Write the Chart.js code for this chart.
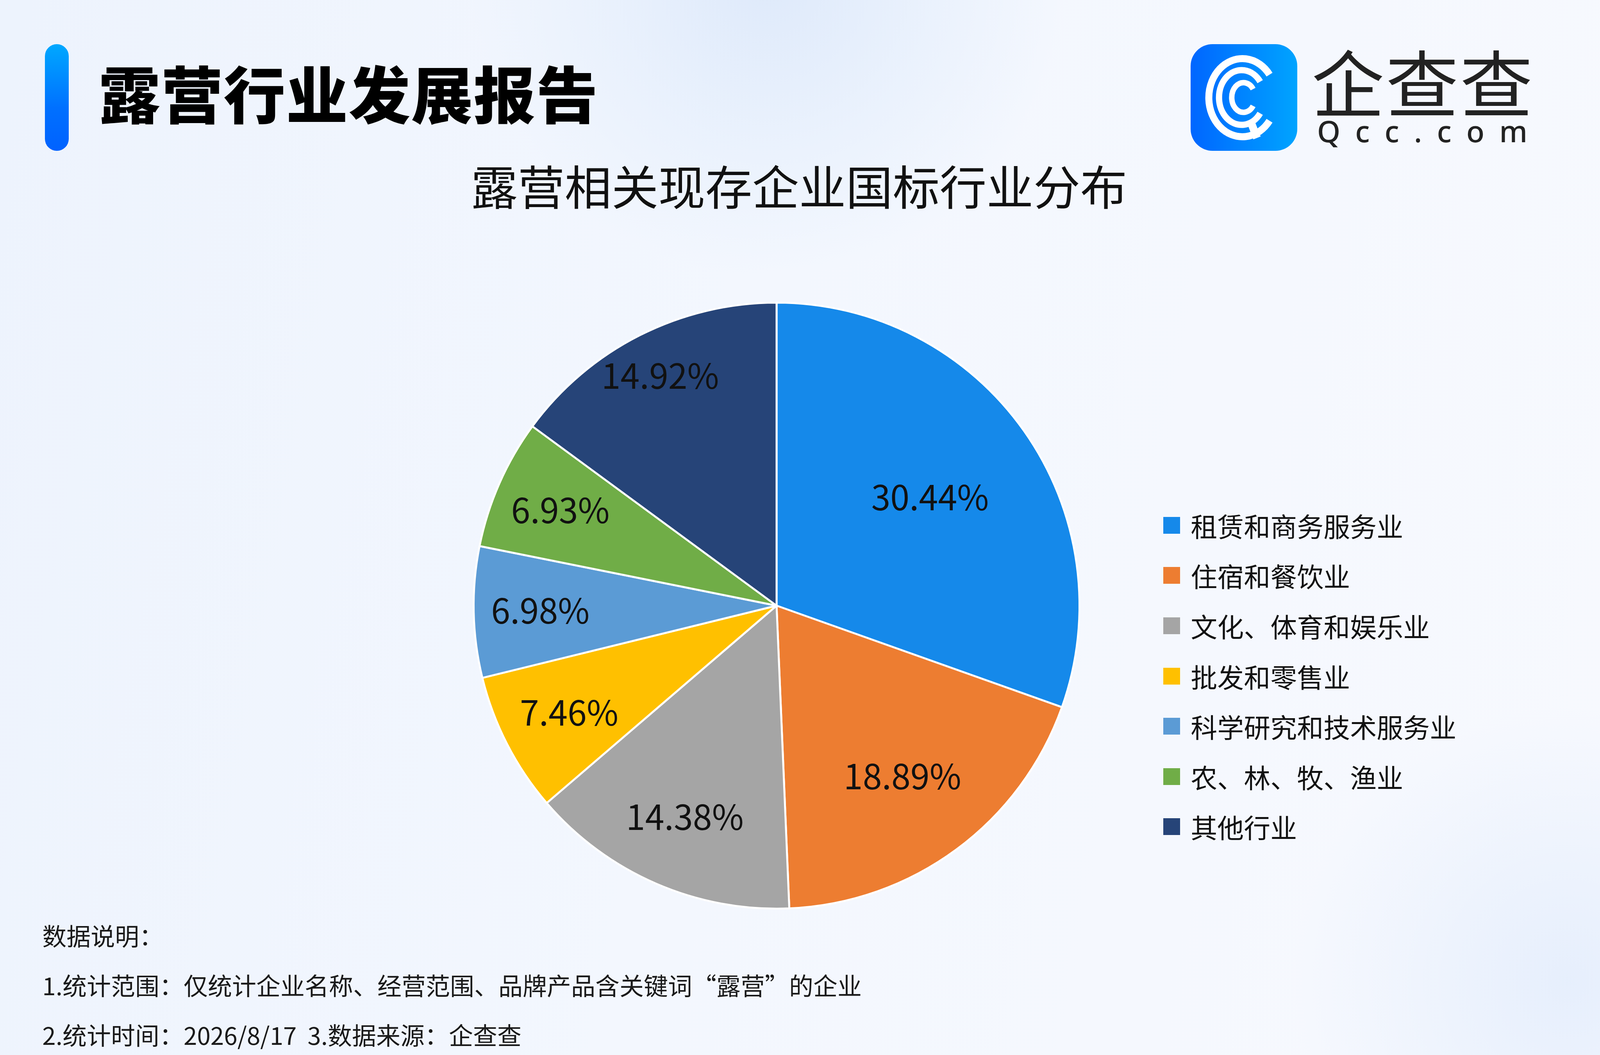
<!DOCTYPE html>
<html lang="zh-CN">
<head>
<meta charset="utf-8">
<title>露营行业发展报告</title>
<script src="https://cdn.jsdelivr.net/npm/chart.js@4.4.1/dist/chart.umd.min.js"></script>
<style>
  html, body {
    margin: 0;
    padding: 0;
  }
  body {
    width: 100vw;
    height: 100vh;
    position: relative;
    overflow: hidden;
    font-family: "Noto Sans CJK SC", "Noto Sans", sans-serif;
    color: #111;
    background:
      radial-gradient(circle at 48% -2%, rgba(220, 232, 250, 0.9) 0, rgba(228, 238, 252, 0.6) 420px, rgba(240, 245, 253, 0) 760px),
      radial-gradient(circle at 98% 93%, rgba(226, 236, 252, 0.8) 0, rgba(240, 245, 253, 0) 700px),
      linear-gradient(100deg, #edf3fd 0%, #f3f7fe 45%, #f7f9fe 100%);
  }
  /* x positions follow the width of the window, measured in a 4800 wide frame */
  .bar {
    position: absolute;
    left: calc(100vw * 135 / 4800);
    top: 113px;
    width: 61px;
    height: 273px;
    border-radius: 31px;
    background: linear-gradient(180deg, #00a8ff 0%, #0070ff 60%, #0062ff 100%);
  }
  .header {
    position: absolute;
    left: calc(100vw * 296 / 4800);
    top: 140px;
    font-size: 158px;
    line-height: 190px;
    font-weight: 900;
    color: #000;
    letter-spacing: 2px;
    white-space: nowrap;
  }
  .logo {
    position: absolute;
    left: calc(100vw * 4598 / 4800 - 876px);
    top: 113px;
    width: 876px;
    height: 273px;
  }
  .logo-icon {
    position: absolute;
    left: 0;
    top: 0;
    width: 273px;
    height: 273px;
  }
  .logo-text {
    position: absolute;
    left: 310px;
    top: -18px;
    font-size: 186px;
    line-height: 220px;
    color: #222;
    letter-spacing: 4px;
    white-space: nowrap;
  }
  .logo-sub {
    position: absolute;
    left: 324px;
    top: 177px;
    font-size: 76px;
    line-height: 90px;
    color: #222;
    letter-spacing: 38px;
    font-family: "Noto Sans", sans-serif;
    font-weight: 500;
    white-space: nowrap;
  }
  .title {
    position: absolute;
    left: calc(100vw * 2397 / 4800);
    top: 403px;
    transform: translateX(-50%);
    font-size: 120px;
    line-height: 140px;
    color: #111;
    white-space: nowrap;
  }
  #pie {
    position: absolute;
    left: calc(100vw * 2330 / 4800 - 930px);
    top: 620px;
  }
  .legend {
    position: absolute;
    left: calc(100vw * 3490 / 4800);
    top: 1280px;
  }
  .legend-item {
    height: 128.6px;
    display: flex;
    align-items: center;
    font-size: 68px;
    color: #111;
    white-space: nowrap;
  }
  .legend-box {
    width: 43px;
    height: 43px;
    margin-right: 27px;
    flex: none;
  }
  .notes {
    position: absolute;
    left: calc(100vw * 127 / 4800);
    top: 2330px;
    font-size: 62px;
    line-height: 127px;
    color: #1a1a1a;
    white-space: nowrap;
  }
</style>
</head>
<body>
<div class="bar"></div>
<div class="header">露营行业发展报告</div>

<div class="logo">
  <svg class="logo-icon" viewBox="0 0 273 273">
    <defs>
      <linearGradient id="lg" x1="0" y1="0" x2="1" y2="0">
        <stop offset="0" stop-color="#0066ff"/>
        <stop offset="1" stop-color="#00a4ff"/>
      </linearGradient>
    </defs>
    <rect x="0" y="0" width="273" height="273" rx="56" fill="url(#lg)"/>
    <g fill="none" stroke="#fff" stroke-linecap="butt">
      <path d="M 202 196 A 86 100 0 1 1 202 78" stroke-width="18"/>
      <path d="M 178 177 A 58 70 0 1 1 178 96" stroke-width="16"/>
      <path d="M 160 158 A 30 38 0 1 1 160 115" stroke-width="14"/>
      <path d="M 152 194 L 170 240" stroke-width="20"/>
    </g>
  </svg>
  <div class="logo-text">企查查</div>
  <div class="logo-sub">Qcc.com</div>
</div>

<div class="title">露营相关现存企业国标行业分布</div>

<canvas id="pie" width="1860" height="1860"></canvas>
<div class="legend" id="legend"></div>

<div class="notes">
  <div>数据说明：</div>
  <div>1.统计范围：仅统计企业名称、经营范围、品牌产品含关键词“露营”的企业</div>
  <div>2.统计时间：2026/8/17&nbsp;&nbsp;3.数据来源：企查查</div>
</div>

<script>
const industries = [
  "租赁和商务服务业",
  "住宿和餐饮业",
  "文化、体育和娱乐业",
  "批发和零售业",
  "科学研究和技术服务业",
  "农、林、牧、渔业",
  "其他行业",
];
const shares = [30.44, 18.89, 14.38, 7.46, 6.98, 6.93, 14.92];
const sliceColors = [
  "#1589ea",
  "#ed7d31",
  "#a5a5a5",
  "#ffc000",
  "#5b9bd5",
  "#70ad47",
  "#264478",
];

// how far out each percentage sits, as a part of the radius
const labelDepth = [0.62, 0.7, 0.76, 0.77, 0.78, 0.78, 0.85];

const sliceLabels = {
  id: "sliceLabels",
  afterDatasetsDraw(chart) {
    const ctx = chart.ctx;
    const meta = chart.getDatasetMeta(0);
    ctx.save();
    ctx.font = '88px "Noto Sans CJK SC", "Noto Sans", sans-serif';
    ctx.fillStyle = "#111";
    ctx.textAlign = "center";
    ctx.textBaseline = "middle";
    meta.data.forEach((arc, i) => {
      const p = arc.getProps(["x", "y", "startAngle", "endAngle", "outerRadius"], true);
      const mid = (p.startAngle + p.endAngle) / 2;
      const r = p.outerRadius * labelDepth[i];
      ctx.fillText(
        shares[i].toFixed(2) + "%",
        p.x + Math.cos(mid) * r,
        p.y + Math.sin(mid) * r
      );
    });
    ctx.restore();
  },
};

const ctx = document.getElementById("pie").getContext("2d");
new Chart(ctx, {
  type: "pie",
  data: {
    labels: industries,
    datasets: [
      {
        data: shares,
        backgroundColor: sliceColors,
        borderColor: "#ffffff",
        borderWidth: 5,
      },
    ],
  },
  options: {
    responsive: false,
    devicePixelRatio: 1,
    animation: false,
    layout: { padding: 152 },
    plugins: {
      legend: { display: false },
      tooltip: { enabled: false },
    },
  },
  plugins: [sliceLabels],
});

// Legend on the right
const legend = document.getElementById("legend");
industries.forEach((name, i) => {
  const item = document.createElement("div");
  item.className = "legend-item";
  const box = document.createElement("div");
  box.className = "legend-box";
  box.style.background = sliceColors[i];
  const text = document.createElement("span");
  text.textContent = name;
  item.appendChild(box);
  item.appendChild(text);
  legend.appendChild(item);
});
</script>
</body>
</html>
